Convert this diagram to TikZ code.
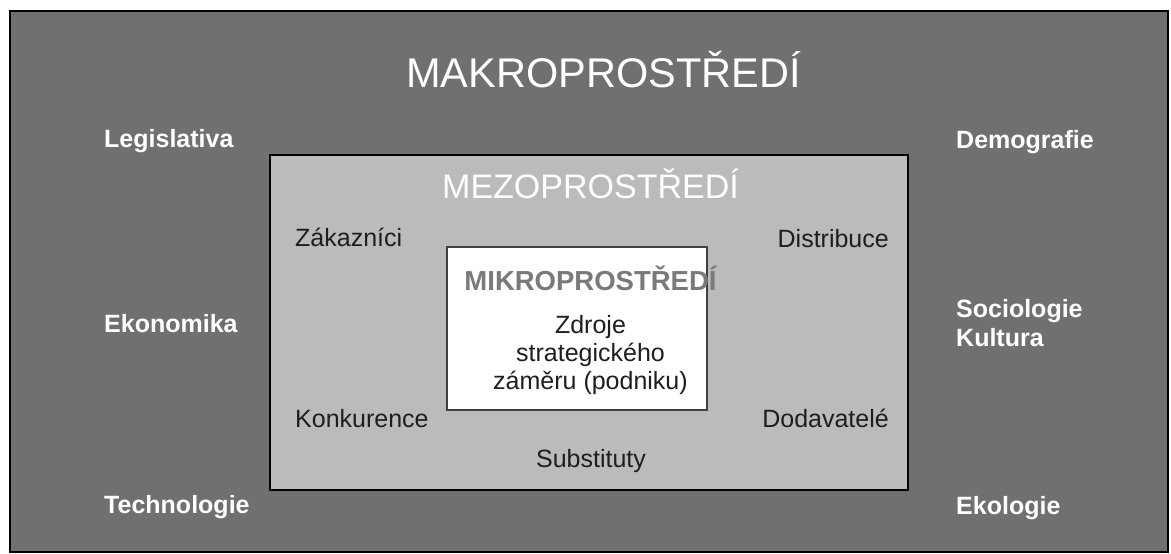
\documentclass[tikz,border=0pt]{standalone}
\usepackage{fontspec}
\setmainfont{Liberation Sans}
\definecolor{makro}{HTML}{707070}
\definecolor{mezo}{HTML}{BBBBBB}
\definecolor{mikrotxt}{HTML}{7A7A7A}
\definecolor{darktxt}{HTML}{1E1E1E}
\begin{document}
\begin{tikzpicture}[x=1pt,y=-1pt,
  makrolbl/.style={anchor=base west,inner sep=0pt,text=white,font=\fontsize{25}{29}\selectfont\bfseries,align=left},
  mezolbl/.style={inner sep=0pt,text=darktxt,font=\fontsize{25}{29}\selectfont}]
\useasboundingbox (0,0) rectangle (1171,554);
\fill[white] (0,0) rectangle (1171,554);
% boxes
\path (10,11) coordinate (mkA) (1168,552) coordinate (mkB);
\draw[fill=makro,draw=black,line width=1.6pt] (mkA) rectangle (mkB);
\path (270,155) coordinate (mzA) (908,490) coordinate (mzB);
\draw[fill=mezo,draw=black,line width=2.6pt] (mzA) rectangle (mzB);
\path (447,247) coordinate (miA) (707,410) coordinate (miB);
\draw[fill=white,draw=black!75,line width=1.1pt] (miA) rectangle (miB);
% titles
\node[anchor=base,inner sep=0pt,text=white,font=\fontsize{41.5}{48}\selectfont] (makro) at (603.5,87) {MAKROPROSTŘEDÍ};
\node[anchor=base,inner sep=0pt,text=white,font=\fontsize{34}{38}\selectfont] (mezo) at (590.5,198) {MEZOPROSTŘEDÍ};
\node[anchor=base,inner sep=0pt,text=mikrotxt,font=\fontsize{27.5}{30}\selectfont\bfseries] (mikro) at (590.5,290) {MIKROPROSTŘEDÍ};
\node[anchor=base,inner sep=0pt,text=darktxt,font=\fontsize{25}{28}\selectfont,align=center] (zdroje) at (590.5,389) {Zdroje\\strategického\\záměru (podniku)};
% makro labels
\node[makrolbl] (legis) at (104,147) {Legislativa};
\node[makrolbl] (ekon) at (104,332) {Ekonomika};
\node[makrolbl] (tech) at (104,513) {Technologie};
\node[makrolbl] (demo) at (956,148) {Demografie};
\node[makrolbl] (soc) at (956,346) {Sociologie\\Kultura};
\node[makrolbl] (eko) at (956,514) {Ekologie};
% mezo labels
\node[mezolbl,anchor=base west] (zak) at (295,246) {Zákazníci};
\node[mezolbl,anchor=base west] (konk) at (295,427) {Konkurence};
\node[mezolbl,anchor=base east] (dist) at (889,247) {Distribuce};
\node[mezolbl,anchor=base east] (doda) at (889,427) {Dodavatelé};
\node[mezolbl,anchor=base] (subst) at (591,467) {Substituty};
\end{tikzpicture}
\end{document}
